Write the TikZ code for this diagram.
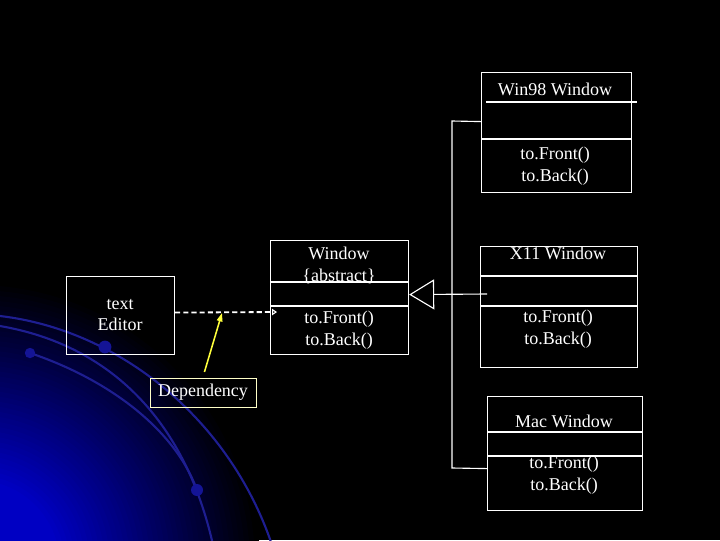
\documentclass[tikz,border=0pt]{standalone}
\usepackage{fontspec}
\setmainfont{Liberation Serif}
\usetikzlibrary{arrows.meta}

\definecolor{glowblue}{RGB}{0,0,195}
\definecolor{arcblue}{RGB}{30,30,145}
\definecolor{dotblue}{RGB}{20,20,150}
\definecolor{noteyellow}{RGB}{255,255,60}
\definecolor{noteframe}{RGB}{255,255,200}

\begin{document}
\begin{tikzpicture}[x=0.025cm,y=-0.025cm]
    \tikzstyle{box}=[draw=white,line width=0.8pt,inner sep=0pt,anchor=north west]
    \tikzstyle{rule}=[draw=white,line width=0.8pt]
    \tikzstyle{txt}=[text=white,align=center,inner sep=0pt,font=\fontsize{12.8}{15.6}\selectfont]
    \tikzstyle{inherit}=[rule,-{Triangle[open,length=0.625cm,width=0.75cm]}]
    \tikzstyle{depend}=[draw=white,line width=1.3pt,dash pattern=on 3.6pt off 2.2pt,-{Triangle[open,length=3.5pt,width=4.5pt,line width=0.8pt]}]
    \tikzstyle{note}=[draw=noteyellow,line width=1.1pt,-{Triangle[length=6pt,width=4pt]}]
    \tikzstyle{arc}=[draw=arcblue,line width=1.5pt,line cap=round]

    \useasboundingbox (0,0) rectangle (720,540);
    % background
    \fill[black] (0,0) rectangle (720,540);
    \begin{scope}
        \clip (0,0) rectangle (720,540);
        \foreach \r in {285,280,...,85} {
            \pgfmathsetmacro{\pct}{min(100,(285-\r)/2)}
            \fill[glowblue!\pct!black] (-25,565) circle[radius=\r*0.025cm];
        }
        \draw[arc] (0,316) .. controls (120,330) and (230,420) .. (272,545);
        \draw[arc] (0,326) .. controls (110,345) and (185,420) .. (213,545);
        \draw[arc] (30,353) .. controls (110,380) and (175,430) .. (197,490);
        \fill[dotblue] (105,347) circle[radius=0.16cm];
        \fill[dotblue] (30,353) circle[radius=0.13cm];
        \fill[dotblue] (197,490) circle[radius=0.15cm];
    \end{scope}

    % classes
    \node (win98)[box,minimum width=3.75cm,minimum height=3cm] at (481,72) {};
    \node (window)[box,minimum width=3.45cm,minimum height=2.85cm] at (270,240) {};
    \node (x11)[box,minimum width=3.925cm,minimum height=3.025cm] at (480,246) {};
    \node (mac)[box,minimum width=3.875cm,minimum height=2.85cm] at (487,396) {};
    \node (editor)[box,minimum width=2.7cm,minimum height=1.95cm] at (66,276) {};
    \node (dep)[box,draw=noteframe,line width=0.6pt,minimum width=2.65cm,minimum height=0.725cm] at (150,378) {};

    \draw[rule] (486,102) -- (637,102);
    \draw[rule] (481,139) -- (631,139);
    \draw[rule] (270,282) -- (408,282);
    \draw[rule] (270,306) -- (408,306);
    \draw[rule] (480,276) -- (637,276);
    \draw[rule] (480,306) -- (637,306);
    \draw[rule] (487,432) -- (642,432);
    \draw[rule] (487,456) -- (642,456);

    \node (win98name)[txt] at (555,89) {Win98 Window};
    \node (win98ops)[txt] at (555,166) {to.Front()\\to.Back()};
    \node (windowname)[txt] at (339,265) {Window\\\{abstract\}};
    \node (windowops)[txt] at (339,330) {to.Front()\\to.Back()};
    \node (x11name)[txt] at (558,253) {X11 Window};
    \node (x11ops)[txt] at (558,329) {to.Front()\\to.Back()};
    \node (macname)[txt] at (564,421) {Mac Window};
    \node (macops)[txt] at (564,475) {to.Front()\\to.Back()};
    \node (editorname)[txt] at (120,315) {text\\Editor};
    \node (depname)[txt] at (203,392) {Dependency};

    % connectors
    \coordinate (busTop) at (452,121);
    \coordinate (busBot) at (452,468);
    \coordinate (genTail) at (487,294);
    \coordinate (useTip) at (277,312);
    \coordinate (useHit) at (222,313);
    \draw[rule] ([yshift=0.275cm]win98.west) -- (busTop) -- (busBot) -- ([yshift=-0.375cm]mac.west);
    \draw[inherit] (genTail) -- ([yshift=0.075cm]window.east);
    \draw[depend] ([yshift=0.075cm]editor.east) -- (useTip);
    \draw[note] ([xshift=0.025cm,yshift=0.15cm]dep.north) -- (useHit);
\end{tikzpicture}
\end{document}
